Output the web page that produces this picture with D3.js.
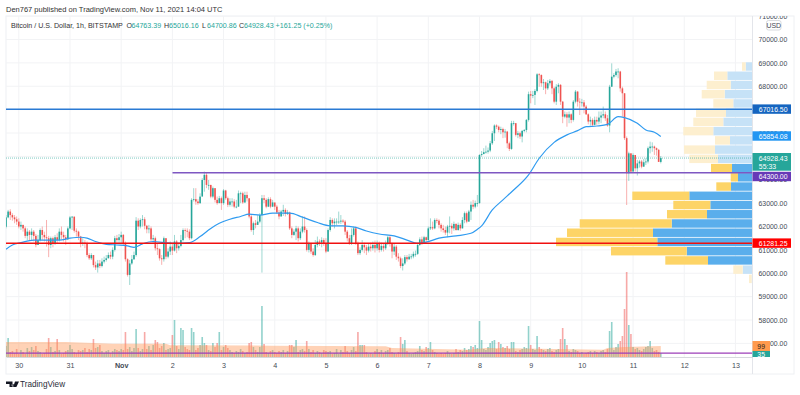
<!DOCTYPE html>
<html>
<head>
<meta charset="utf-8">
<script src="https://cdn.jsdelivr.net/npm/d3@7"></script>
<style>
  body { margin: 0; background: #fff; }
  text { font-family: "Liberation Sans", Arial, sans-serif; }
</style>
</head>
<body>
<div id="chart"></div>
<script>
// hourly candles, first one is Oct 29 18:00, open of a candle = close of the one before
const firstOpen = 61990;
const closes = [62390,62640,62490,62390,62310,62210,62000,62070,61920,61600,61780,61640,61780,61600,61210,61420,61850,61640,61540,61500,61210,61500,61280,61540,61420,61780,61640,61540,61450,61920,62390,62420,61820,61780,61570,61280,61310,61280,60780,60640,60780,60350,60250,60420,60310,60500,60570,60640,60780,60710,61000,61500,61420,61540,61640,61280,60600,59930,60420,60600,60780,62250,62000,62280,62310,62030,61880,61920,61450,61500,61070,61030,60640,60600,61500,60710,60930,61140,60970,61360,61070,61170,61420,61850,61820,61780,61500,63140,63170,63070,63000,63280,63990,64210,63780,63780,63280,63640,63140,63000,63210,63000,63540,63210,62930,63070,63070,62850,62850,63420,63420,63030,63350,63210,62430,61850,62140,62070,62210,62490,63210,63140,62850,63170,62850,63030,62850,62600,62430,62640,62710,62540,62600,61920,61640,61780,61920,61500,61780,62000,61850,61000,61280,60930,60780,61210,61360,61310,61420,61280,60930,61850,62280,62140,62210,62210,62210,62250,62210,61780,61500,61280,61640,61920,61280,60860,61000,61210,61110,60970,61140,61070,61210,61070,61280,61000,61170,61070,61280,61540,61280,60930,61140,60710,60640,60310,60420,60690,60600,60710,60720,60830,60830,61210,61450,61280,61540,61420,61920,61970,61920,62280,62250,62070,61920,61850,61740,62000,62030,61920,62110,61850,62070,61920,62280,62570,62210,62640,62930,62850,63000,63000,65060,65100,65180,65200,65250,65560,65990,66320,66270,66130,66170,66030,66060,65560,65320,66420,66420,65920,65990,65850,66090,66130,66560,67660,67600,67630,67800,68510,68480,68130,68170,67910,68130,68230,67910,67340,67980,68060,67340,66700,66800,66660,66800,66560,67340,67770,67340,67310,67310,67130,66800,66490,66560,66350,66560,66490,66660,66750,66800,66630,66320,67980,68410,68480,68630,68630,67910,67700,65780,64280,65130,64350,65060,64490,64700,64780,64560,64750,64780,65350,65420,65420,65350,65280,64763,64928];
const highs = [62490,62710,62740,62570,62490,62430,62350,62210,62070,62000,61920,61850,61920,61850,61680,61640,61920,62000,61780,62280,61600,61570,61570,61640,61710,61920,62000,61780,61640,62000,62450,62450,62430,61920,61820,61600,61500,61420,61360,60860,60860,60780,60500,60570,60570,60640,60710,60780,60890,60930,61110,61600,61640,61680,61780,61680,61360,60640,60570,60780,60930,62400,62350,62350,62490,62400,62070,62070,62000,61640,61570,61280,61070,60780,61570,61500,61070,61360,61260,61640,61420,61310,61640,61920,61920,61920,61880,63210,63640,63640,63170,63420,64070,64350,64280,63990,63780,63710,63640,63280,63310,63280,63600,63570,63280,63210,63210,63170,63140,63540,63490,63490,63490,63490,63170,62490,62210,62280,62490,62570,63350,63350,63210,63250,63250,63140,63000,62930,62710,62710,62930,62780,62710,62640,62000,61880,62030,62000,61920,62430,62430,61920,61360,61310,61070,61420,61570,61450,61540,61500,61500,61920,62400,62350,62350,62350,62640,62490,62310,62280,61850,61640,61920,62000,62000,61360,61110,61420,61310,61210,61280,61310,61360,61400,61400,61360,61310,61280,61400,61600,61600,61310,61260,61210,60860,60710,60640,60780,60780,60830,60830,60930,60970,61310,61540,61570,61600,61570,62000,62350,62210,62350,62350,62310,62140,62070,62000,62070,62430,62140,62210,62140,62170,62140,62400,62640,62640,62710,63070,63140,63110,63350,65090,65230,65350,65460,65380,65660,66090,66370,66370,66320,66270,66230,66170,66090,65630,66520,66520,66420,66090,66060,66130,66170,66600,67770,67800,67800,67880,68560,68560,68510,68310,68200,68270,68310,68270,67980,68090,68130,68090,67370,66920,66890,66920,66840,67410,67840,67800,67490,67460,67410,67200,66840,66700,66630,66700,66700,66920,66920,67130,66920,66770,68060,68980,68560,68740,68770,68660,67980,67700,65850,65200,65130,65130,64920,64850,64850,64850,64890,64920,65420,65630,65600,65460,65380,65320,65016];
const lows = [61920,62350,62280,62250,62140,62070,61920,61850,61780,61500,61420,61420,61400,61360,61110,61280,61360,61420,61360,61140,60690,61070,61110,61210,61280,61360,61450,61360,61210,61420,61880,61850,61740,61570,61420,61110,61170,61070,60690,60570,60570,60250,60140,60030,60220,60250,60420,60500,60640,60600,60600,60930,61280,61280,61280,61170,60500,59860,59500,60360,60570,60710,61850,61920,62000,61880,61710,61710,61360,61280,60970,60780,60540,60360,60500,60600,60640,60780,60780,60930,60860,60970,61110,61360,61500,61540,61420,61450,63070,62930,62930,62970,63350,63490,63640,63570,63210,63210,63030,62930,63000,62710,62930,63140,62830,62850,62850,62780,62780,62850,63000,62970,63000,63070,62350,61780,61640,61920,62070,62140,60030,63000,62780,62830,62780,62830,62710,62540,62310,62430,62450,62430,62490,61850,61500,61600,61420,61360,61420,61710,61740,60930,60890,60830,60710,60740,61110,61170,61110,61170,60860,60930,61780,62000,61920,62070,62110,62110,62140,61640,61360,61210,61210,61570,61210,60780,60780,60930,60860,60780,60890,60930,60970,60890,60970,60890,60930,60930,61000,61210,61140,60640,60780,60570,60500,60220,60120,60360,60500,60570,60600,60640,60710,60780,61170,61210,61280,61310,61400,61850,61850,61880,62140,61920,61780,61740,61640,61540,61710,61680,61820,61820,61820,61820,61920,62140,62140,62210,62280,62740,62780,62850,62980,64990,65090,65120,65120,65180,65490,65660,66170,66030,65950,65780,65800,65350,65230,65280,66320,65850,65780,65750,65600,66030,66030,66490,67270,67490,67200,67740,67980,67980,67840,67660,67840,68030,67660,67270,67200,67700,67200,66420,66630,66270,66420,66420,66490,67270,67130,66770,67130,66840,66770,66370,66320,66270,66320,66350,66370,66420,66630,66520,66270,66030,67980,68340,68410,68340,67770,66700,65700,62920,63950,64280,64350,64350,64180,64520,64490,64560,64630,64700,65130,65200,65060,65030,64890,64700.86];
const volumes = [100,171,45,54,36,72,27,63,45,27,81,54,90,63,99,54,45,27,36,72,171,90,45,54,162,63,27,36,54,63,108,72,45,36,63,54,63,81,45,72,63,162,81,90,108,54,36,54,63,36,54,72,63,54,72,63,225,72,90,54,81,252,81,54,72,225,72,99,63,108,153,135,81,99,126,63,72,81,198,333,99,72,261,243,90,72,63,261,225,63,81,108,180,126,108,63,54,126,90,126,225,63,90,108,81,63,45,36,54,45,72,54,36,45,126,135,90,63,45,90,459,117,45,36,54,63,45,36,54,45,63,36,54,108,108,90,153,45,63,72,54,144,72,45,63,36,54,45,36,63,54,45,54,27,36,72,27,63,45,99,54,36,63,90,54,225,108,108,108,45,27,36,27,54,72,45,63,36,54,63,81,45,36,27,45,180,117,153,54,36,27,36,45,54,99,63,54,90,81,135,63,45,36,27,36,27,36,54,36,27,36,72,45,63,54,81,63,72,99,90,108,81,324,153,72,63,90,126,144,153,72,135,117,90,81,99,72,135,135,54,45,63,72,90,81,279,108,72,63,189,90,72,63,54,72,81,54,45,63,72,162,261,162,108,54,45,72,63,54,36,45,27,36,45,54,36,54,45,36,54,63,45,72,234,315,63,90,117,144,189,432,765,288,207,90,72,81,63,54,72,90,99,144,81,54,63,45,35];

// moving average read at the candle numbers in maIndex
const maIndex = [0,3,7,13,19,25,30,35,38,42,47,52,57,60,64,69,74,80,86,91,96,100,105,110,114,119,125,133,139,146,152,158,164,169,175,182,188,193,197,203,211,218,221,223,228,233,238,245,250,257,263,268,272,277,282,287,290,296,300,304,307];
const maValues = [61030,61210,61310,61420,61420,61420,61500,61540,61500,61360,61240,61210,61170,61110,61260,61360,61310,61280,61310,61570,61920,62140,62310,62430,62530,62490,62570,62570,62400,62170,62030,62030,61960,61810,61680,61600,61420,61280,61330,61500,61600,61710,61880,62030,62710,63140,63560,64210,64920,65600,65920,66100,66270,66300,66370,66700,66660,66420,66130,66030,65854];

// volume moving average, same idea
const volMaIndex = [0,28,41,50,75,77,124,178,181,217,225,250,280,282,290,307];
const volMaValues = [135,135,126,120,120,105,102,96,81,66,81,75,66,81,90,99];

// visible range volume profile, one entry per row, top row first
const vpRowTops = [69025,68630,68235,67840,67445,67050,66655,66260,65865,65470,65075,64680,64285,63890,63495,63100,62705,62310,61915,61520,61125,60730,60335,59940];
const vpBuy = [6.8,25.2,21.8,27.8,19.2,26.5,29.2,39.2,22.5,37.5,34.5,20.5,14.5,21.5,63.2,42.2,45.5,80.8,99.5,95.2,65.8,44.5,9.8,0.8];
const vpSell = [3.7,13.3,24,23,20,30,30,30,15,31,28.7,21,7.3,14.7,57,37,40,92,86,101.3,75.7,42.7,9.4,2.7];
const vpRowSize = 395;
const vpValueArea = [11, 21];

const priceTicks = [71000,70000,69000,68000,67000,66000,65000,64000,63000,62000,61000,60000,59000,58000,57000];
const dayStarts = [6,30,54,78,102,126,150,174,198,222,246,270,294,318,342];
const dayLabels = ["30","31","Nov","2","3","4","5","6","7","8","9","10","11","12","13"];

function drawChart() {
    const width = 800; const height = 395;
    const left = 6; const right = 752.5; const top = 16; const bottom = 357;
    const frameRight = 794; const frameBottom = 374;
    const font = '"Liberation Sans", Arial, sans-serif';
    const labelSize = 6.9;

    const svg = d3.select("#chart").append("svg")
        .attr("width", width)
        .attr("height", height)
        .style("display", "block");

    const defs = svg.append("defs");
    defs.append("clipPath").attr("id", "pane").append("rect")
        .attr("x", left).attr("y", top).attr("width", right - left).attr("height", bottom - top);
    defs.append("clipPath").attr("id", "axisClip").append("rect")
        .attr("x", right).attr("y", top).attr("width", frameRight - right).attr("height", frameBottom - top);

    const x = d3.scaleLinear().domain([0, 350]).range([left, right]);
    const y = d3.scaleLinear().domain([70000, 57000]).range([39.5, 343.4]);
    const vol = d3.scaleLinear().domain([0, 765]).range([bottom, bottom - 85]);
    const vpX = d3.scaleLinear().domain([0, 196.5]).range([right, right - 196.5]);

    // Frame
    svg.append("rect")
        .attr("x", left).attr("y", top)
        .attr("width", frameRight - left).attr("height", frameBottom - top)
        .attr("fill", "none").attr("stroke", "#eef0f3");

    // Grid
    const grid = svg.append("g").attr("clip-path", "url(#pane)").attr("stroke", "#f2f3f5");
    grid.selectAll("line.h").data(priceTicks).enter().append("line")
        .attr("x1", left).attr("x2", right)
        .attr("y1", d => y(d)).attr("y2", d => y(d));
    grid.selectAll("line.v").data(dayStarts).enter().append("line")
        .attr("x1", d => x(d)).attr("x2", d => x(d))
        .attr("y1", top).attr("y2", bottom);

    const pane = svg.append("g").attr("clip-path", "url(#pane)");

    // Volume profile
    const rowHeight = y(0) - y(vpRowSize) - 0.8;
    const inValue = i => i >= vpValueArea[0] && i <= vpValueArea[1];
    const vp = pane.append("g");
    vp.selectAll("rect.buy").data(vpBuy).enter().append("rect")
        .attr("x", d => vpX(d))
        .attr("y", (d, i) => y(vpRowTops[i]))
        .attr("width", d => right - vpX(d))
        .attr("height", rowHeight)
        .attr("fill", (d, i) => inValue(i) ? "#5aaeec" : "#c6e2f7");
    vp.selectAll("rect.sell").data(vpSell).enter().append("rect")
        .attr("x", (d, i) => vpX(vpBuy[i] + d))
        .attr("y", (d, i) => y(vpRowTops[i]))
        .attr("width", d => right - vpX(d))
        .attr("height", rowHeight)
        .attr("fill", (d, i) => inValue(i) ? "#fdd467" : "#fdefcf");

    // Volume bars
    const opens = closes.map((c, i) => i === 0 ? firstOpen : closes[i - 1]);
    const isUp = i => closes[i] >= opens[i];
    pane.append("g").selectAll("rect").data(volumes).enter().append("rect")
        .attr("x", (d, i) => x(i) - 0.8)
        .attr("y", d => vol(d))
        .attr("width", 1.6)
        .attr("height", d => bottom - vol(d))
        .attr("fill", (d, i) => isUp(i) ? "#26a69a" : "#ef5350")
        .attr("fill-opacity", 0.5);

    // Volume average, filled
    const volArea = d3.area()
        .x(d => x(d))
        .y0(bottom)
        .y1((d, i) => vol(volMaValues[i]));
    pane.append("path")
        .attr("d", volArea(volMaIndex))
        .attr("fill", "#ff9350")
        .attr("fill-opacity", 0.42);

    // Candles, wick first
    const candles = pane.append("g");
    candles.selectAll("line").data(closes).enter().append("line")
        .attr("x1", (d, i) => x(i)).attr("x2", (d, i) => x(i))
        .attr("y1", (d, i) => y(highs[i])).attr("y2", (d, i) => y(lows[i]))
        .attr("stroke", (d, i) => isUp(i) ? "#26a69a" : "#ef5350")
        .attr("stroke-opacity", 0.45)
        .attr("stroke-width", 1);
    candles.selectAll("rect").data(closes).enter().append("rect")
        .attr("x", (d, i) => x(i) - 0.8)
        .attr("y", (d, i) => y(Math.max(d, opens[i])))
        .attr("width", 1.6)
        .attr("height", (d, i) => Math.max(0.8, Math.abs(y(d) - y(opens[i]))))
        .attr("fill", (d, i) => isUp(i) ? "#26a69a" : "#ef5350");

    // Moving average
    const maLine = d3.line()
        .x(d => x(d))
        .y((d, i) => y(maValues[i]))
        .curve(d3.curveMonotoneX);
    pane.append("path")
        .attr("d", maLine(maIndex))
        .attr("fill", "none")
        .attr("stroke", "#2f9bf0")
        .attr("stroke-width", 1.2);

    // Last price dotted line
    pane.append("line")
        .attr("x1", left).attr("x2", right)
        .attr("y1", y(64928.43)).attr("y2", y(64928.43))
        .attr("stroke", "#26a69a").attr("stroke-opacity", 0.6)
        .attr("stroke-dasharray", "1 1");

    // Drawn levels
    pane.append("line").attr("x1", left).attr("x2", right)
        .attr("y1", y(67016.5)).attr("y2", y(67016.5))
        .attr("stroke", "#2a7ad4").attr("stroke-width", 1.6);
    pane.append("line").attr("x1", 172.5).attr("x2", right)
        .attr("y1", y(64300)).attr("y2", y(64300))
        .attr("stroke", "#7e57c2").attr("stroke-width", 1.6);
    pane.append("line").attr("x1", left).attr("x2", right)
        .attr("y1", y(61281.25)).attr("y2", y(61281.25))
        .attr("stroke", "#f01010").attr("stroke-width", 1.5);
    pane.append("line").attr("x1", left).attr("x2", right)
        .attr("y1", 353.2).attr("y2", 353.2)
        .attr("stroke", "#9c3fb8").attr("stroke-width", 1.3);

    // Price axis, clipped so the 71000 label is cut by the frame
    const priceAxis = svg.append("g").attr("clip-path", "url(#axisClip)").append("g")
        .attr("transform", "translate(" + right + ",0)")
        .call(d3.axisRight(y).tickValues(priceTicks).tickSize(0).tickPadding(6).tickFormat(d3.format(".2f")));
    priceAxis.select(".domain").remove();
    priceAxis.selectAll("text").attr("font-size", labelSize).attr("fill", "#444a55")
        .style("font-family", font);
    svg.append("line").attr("x1", right).attr("x2", right).attr("y1", top).attr("y2", frameBottom)
        .attr("stroke", "#e3e5ea");

    // Time axis
    const timeAxis = svg.append("g")
        .attr("transform", "translate(0," + bottom + ")")
        .call(d3.axisBottom(x).tickValues(dayStarts).tickSize(0).tickPadding(6).tickFormat((d, i) => dayLabels[i]));
    timeAxis.select(".domain").attr("stroke", "#d6d8dd");
    timeAxis.selectAll("text").attr("font-size", 7.2).attr("fill", "#444a55")
        .style("font-family", font);
    timeAxis.selectAll("text").filter(d => d === 54).attr("font-weight", "bold");

    // Price tags on the axis, the purple one sits lower than its line to clear the last price tag
    const tags = [
        { v: 67016.5, text: "67016.50", fill: "#1565c0", top: 104.4 },
        { v: 65854.08, text: "65854.08", fill: "#2196f3", top: 131.3 },
        { v: 64300, text: "64300.00", fill: "#673ab7", top: 171.8 },
        { v: 61281.25, text: "61281.25", fill: "#ff0000", top: 238.4 }
    ];
    const tagGroup = svg.append("g");
    tagGroup.selectAll("rect").data(tags).enter().append("rect")
        .attr("x", right).attr("y", d => d.top)
        .attr("width", 38.5).attr("height", 9.4)
        .attr("fill", d => d.fill);
    tagGroup.selectAll("text").data(tags).enter().append("text")
        .attr("x", right + 6.3).attr("y", d => d.top + 7.2)
        .attr("font-size", labelSize).attr("fill", "#fff")
        .text(d => d.text);

    // Last price tag with countdown
    svg.append("rect").attr("x", right).attr("y", 153).attr("width", 38.5).attr("height", 17.7).attr("fill", "#26a69a");
    svg.append("text").attr("x", right + 6.3).attr("y", 160.8).attr("font-size", labelSize).attr("fill", "#fff").text("64928.43");
    svg.append("text").attr("x", right + 6.3).attr("y", 168.6).attr("font-size", labelSize).attr("fill", "#fff").text("55:33");

    // Volume tags, bottom one is cut by the time axis
    svg.append("rect").attr("x", right).attr("y", 341).attr("width", 17.5).attr("height", 10).attr("fill", "#ff9a4d");
    svg.append("rect").attr("x", right).attr("y", 351).attr("width", 17.5).attr("height", 6).attr("fill", "#26a69a");
    svg.append("text").attr("x", right + 8.7).attr("y", 348.7).attr("text-anchor", "middle").attr("font-size", labelSize).attr("fill", "#222").text("99");
    svg.append("text").attr("x", right + 8.7).attr("y", 357).attr("text-anchor", "middle").attr("font-size", labelSize).attr("fill", "#fff").text("35");

    // USD button
    svg.append("rect").attr("x", 766.5).attr("y", 20.5).attr("width", 14.5).attr("height", 9.5).attr("rx", 2)
        .attr("fill", "#fff").attr("stroke", "#d8dade");
    svg.append("text").attr("x", 773.7).attr("y", 28).attr("text-anchor", "middle").attr("font-size", labelSize).attr("fill", "#444a55").text("USD");

    // Header texts
    svg.append("text").attr("x", 6).attr("y", 12).attr("font-size", 7.5).attr("fill", "#333").text("Den767 published on TradingView.com, Nov 11, 2021 14:04 UTC");
    svg.append("text").attr("x", 11).attr("y", 27.5).attr("font-size", 7.1).attr("fill", "#333").text("Bitcoin / U.S. Dollar, 1h, BITSTAMP");

    const ohlcLetters = ["O", "H", "L", "C"];
    const ohlcTexts = ["64763.39", "65016.16", "64700.86", "64928.43 +161.25 (+0.25%)"];
    const ohlcX = [126.5, 164, 202, 239];
    const legend = svg.append("g").attr("font-size", 7.1);
    legend.selectAll("text.l").data(ohlcLetters).enter().append("text")
        .attr("x", (d, i) => ohlcX[i]).attr("y", 27.5).attr("fill", "#333").text(d => d);
    legend.selectAll("text.v").data(ohlcTexts).enter().append("text")
        .attr("x", (d, i) => ohlcX[i] + 5).attr("y", 27.5).attr("fill", "#26a69a").text(d => d);

    // TradingView mark
    svg.append("path")
        .attr("d", "M6 381.5h6.5v5.5h-3v-3h-3.5zM12.8 384a1.2 1.2 0 1 0 0.01 0zM15 381.5h4l-2.6 5.5h-3.2z")
        .attr("fill", "#131722");
    svg.append("text").attr("x", 20).attr("y", 387).attr("font-size", 8.2).attr("fill", "#2a2e39").text("TradingView");
}

window.addEventListener('load', function () {
    drawChart();
});
</script>
</body>
</html>
